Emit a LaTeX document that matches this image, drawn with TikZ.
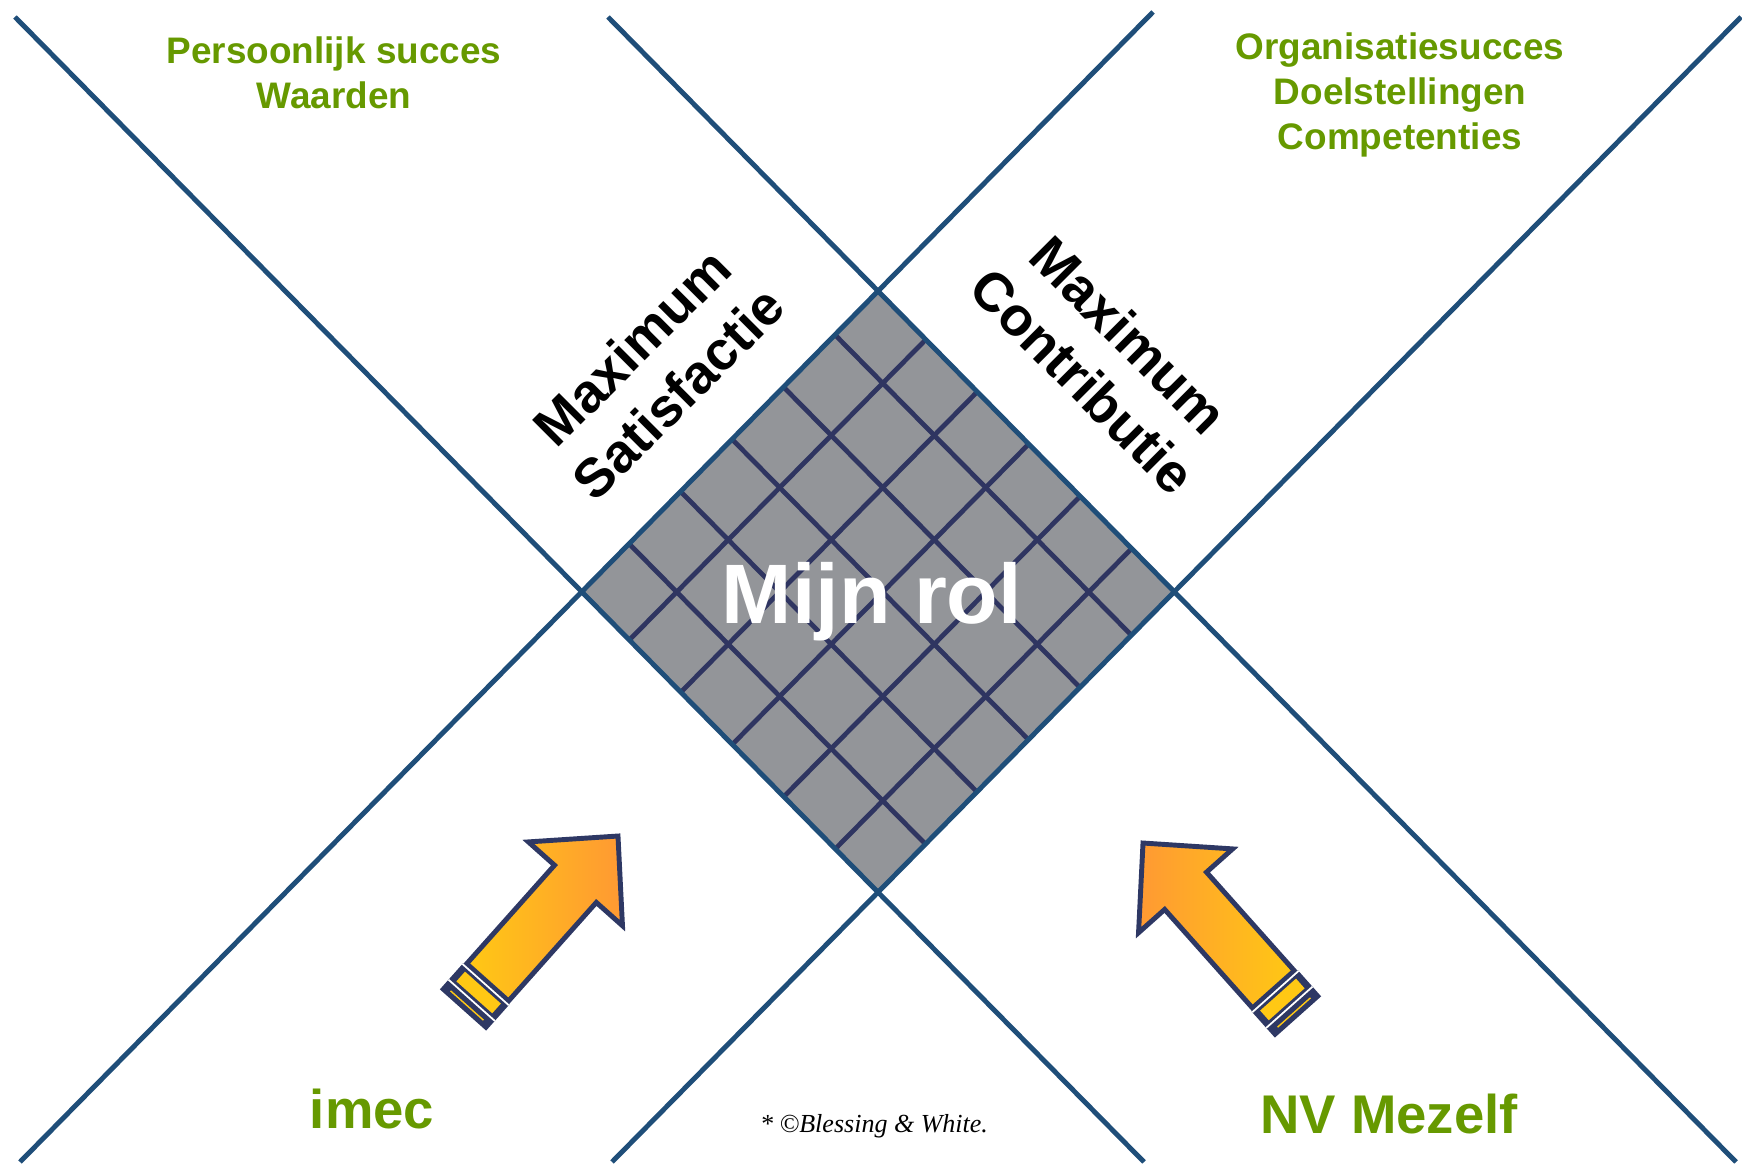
\documentclass[tikz,border=0pt]{standalone}
\usepackage{fontspec}
\setmainfont{Liberation Sans}
\newfontfamily\creditfont{Liberation Serif}
\usetikzlibrary{calc}
\definecolor{lineblue}{RGB}{31,78,121}
\definecolor{gridnavy}{RGB}{47,53,97}
\definecolor{cellgray}{RGB}{147,149,153}
\definecolor{textgreen}{RGB}{102,153,0}
\definecolor{arrowyellow}{RGB}{255,200,20}
\definecolor{arroworange}{RGB}{255,153,51}
\definecolor{arrownavy}{RGB}{46,56,100}

% block arrow with striped tail, pointing along local x
\newcommand{\pusharrow}[1]{%
  \path[arrowbody, #1] (37,-28) -- (169,-28) -- (169,-63) -- (233,0) -- (169,63) -- (169,28) -- (37,28) -- cycle;
  \fill[arrownavy] (0,-31) rectangle (35,31);
  \draw[white, line width=0.5pt] (34,-31) -- (34,31);
  \draw[white, line width=0.5pt] (13,-31) -- (13,31);
  \fill[arrowyellow] (17,-24) rectangle (30,24);
  \draw[arrowyellow, line width=0.4pt] (6,-22) -- (6,22);
}

\begin{document}
\begin{tikzpicture}[x=0.01cm, y=-0.01cm,
    edge/.style = {draw=lineblue, line width=1.4pt},
    gridline/.style = {draw=gridnavy, line width=1.35pt},
    goal/.style = {text=textgreen, align=center,
      font=\bfseries\fontsize{10.5}{12.7}\selectfont},
    axis/.style = {align=center, font=\bfseries\fontsize{15.5}{18.5}\selectfont},
    party/.style = {text=textgreen, anchor=base,
      font=\bfseries\fontsize{15.5}{18}\selectfont},
    arrowbody/.style = {draw=arrownavy, line width=1.4pt, line join=miter}]

    \useasboundingbox (0,0) rectangle (1742,1168);

    % Diamond corners
    \coordinate (top) at (878,292);
    \coordinate (right) at (1174,592);
    \coordinate (bottom) at (878,892);
    \coordinate (left) at (582,592);

    % Diamond
    \fill[cellgray] (left) -- (top) -- (right) -- (bottom) -- cycle;

    % Grid
    \foreach \t in {0.16,0.334,0.508,0.682,0.856}{
      \draw[gridline] ($(left)!\t!(top)$) -- ($(bottom)!\t!(right)$);
      \draw[gridline] ($(top)!\t!(right)$) -- ($(left)!\t!(bottom)$);
    }

    % Crossing lines
    \coordinate (nw1) at (15,17);
    \coordinate (se1) at (1144,1162);
    \coordinate (sw1) at (20,1162);
    \coordinate (ne1) at (1153,12);
    \coordinate (nw2) at (608,17);
    \coordinate (se2) at (1736,1162);
    \coordinate (sw2) at (612,1162);
    \coordinate (ne2) at (1741,17);
    \draw[edge] (nw1) -- (se1);
    \draw[edge] (sw1) -- (ne1);
    \draw[edge] (nw2) -- (se2);
    \draw[edge] (sw2) -- (ne2);

    % Goals
    \node[goal] (personal) at (334,73) {Persoonlijk succes\\Waarden};
    \node[goal] (company) at (1400,95) {Organisatiesucces\\Doelstellingen\\Competenties};

    % Axis labels
    \node[axis, rotate=45] (satisf) at (655,370) {Maximum\\Satisfactie};
    \node[axis, rotate=-45] (contrib) at (1106,358) {Maximum\\Contributie};

    % Centre
    \node[text=white, anchor=base, font=\bfseries\fontsize{24}{28}\selectfont] (role) at (872,624) {Mijn rol};

    % Arrows
    \begin{scope}[shift={(463,1010)}, rotate=48.3]
      \pusharrow{left color=arrowyellow, right color=arroworange}
    \end{scope}
    \begin{scope}[shift={(1298,1017)}, xscale=-1, rotate=48.3]
      \pusharrow{left color=arroworange, right color=arrowyellow}
    \end{scope}

    % Parties
    \node[party] (imec) at (372,1129) {imec};
    \node[party] (self) at (1389,1134) {NV Mezelf};
    \node[anchor=base, font=\creditfont\itshape\fontsize{7.4}{9}\selectfont] (credit) at (874,1133) {* \textcopyright Blessing \& White.};
\end{tikzpicture}
\end{document}
